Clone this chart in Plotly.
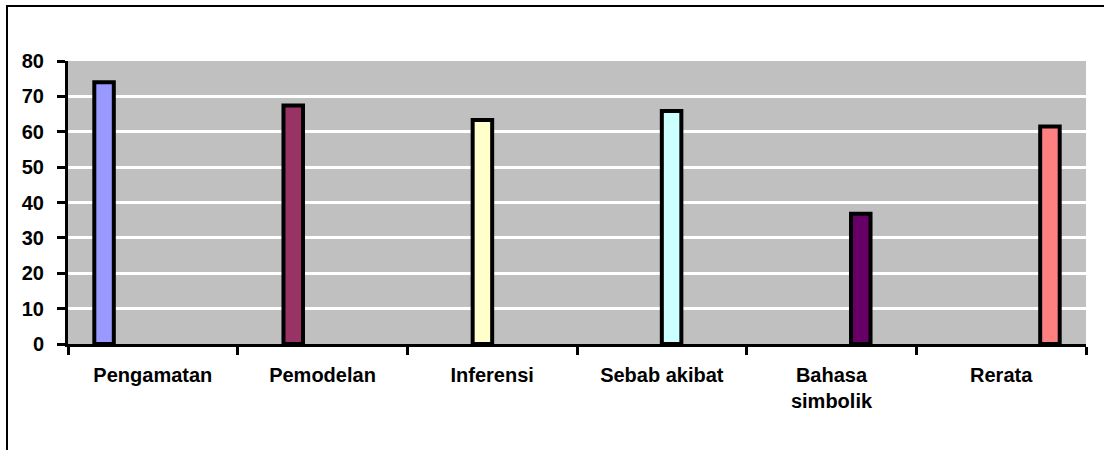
import plotly.graph_objects as go

categories = ["Pengamatan", "Pemodelan", "Inferensi", "Sebab akibat", "Bahasa simbolik", "Rerata"]
tick_labels = ["Pengamatan", "Pemodelan", "Inferensi", "Sebab akibat", "Bahasa<br>simbolik", "Rerata"]
values = [74.0, 67.4, 63.3, 65.9, 36.8, 61.5]
colors = ["#9999FF", "#993366", "#FFFFCC", "#CCFFFF", "#660066", "#FF8080"]
y_ticks = [0, 10, 20, 30, 40, 50, 60, 70, 80]

FONT = "Liberation Sans, Arial, sans-serif"

fig = go.Figure()
for i, (cat, val, col) in enumerate(zip(categories, values, colors)):
    fig.add_trace(go.Bar(
        x=[cat], y=[val], name=cat,
        offsetgroup=str(i), alignmentgroup="all",
        marker=dict(color=col, line=dict(color="black", width=4)),
        showlegend=False,
    ))

# plot area geometry (pixels)
W, H = 1104, 450
L, R, T, B = 68, 18, 61, 106
pw, ph = W - L - R, H - T - B

def px_x(x):
    return (x - L) / pw

def px_y(y):
    return (H - B - y) / ph

fig.update_layout(
    width=W, height=H,
    margin=dict(l=L, r=R, t=T, b=B, pad=0),
    paper_bgcolor="white",
    plot_bgcolor="#C0C0C0",
    barmode="group",
    bargap=0.31,
    bargroupgap=0.0,
    font=dict(family=FONT, size=20, color="black"),
    xaxis=dict(
        type="category",
        categoryorder="array", categoryarray=categories,
        tickvals=categories, ticktext=["<b>%s</b>" % t.replace("<br>", "</b><br><b>") for t in tick_labels],
        tickson="boundaries",
        ticks="outside", ticklen=8, tickwidth=3, tickcolor="black",
        showline=True, linecolor="black", linewidth=3,
        showgrid=False, zeroline=False,
        ticklabelstandoff=11,
        tickfont=dict(family=FONT, size=20, color="black"),
    ),
    yaxis=dict(
        range=[0, 80],
        tickvals=y_ticks, ticktext=["<b>%d</b>" % v for v in y_ticks],
        ticks="outside", ticklen=8, tickwidth=3, tickcolor="black",
        showline=True, linecolor="black", linewidth=3,
        showgrid=True, gridcolor="white", gridwidth=3,
        zeroline=False,
        ticklabelstandoff=9,
        tickfont=dict(family=FONT, size=20, color="black"),
    ),
    shapes=[dict(
        type="rect", xref="paper", yref="paper",
        x0=px_x(7), x1=px_x(1115), y0=px_y(470), y1=px_y(6),
        line=dict(color="black", width=2), fillcolor="rgba(0,0,0,0)",
        layer="below",
    )],
)

fig.write_html("out.html")
